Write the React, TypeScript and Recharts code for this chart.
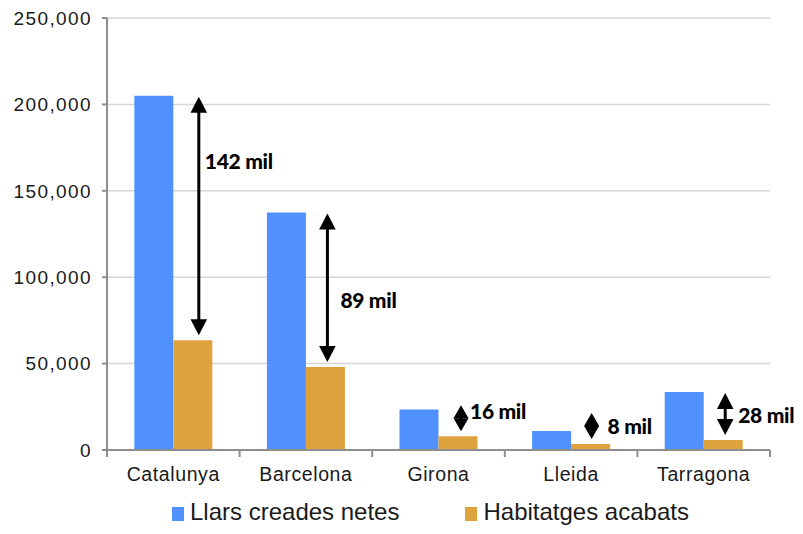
import React from 'react';
import {
  BarChart,
  Bar,
  XAxis,
  YAxis,
  CartesianGrid,
  LabelList,
} from 'recharts';

/* ─── Data ────────────────────────────────────────────────────────────── */

const REGIONS = ['Catalunya', 'Barcelona', 'Girona', 'Lleida', 'Tarragona'];
const LLARS = [205000, 137500, 23500, 11000, 33500];
const HABITATGES = [63500, 48000, 8000, 3400, 5800];
const GAP_LABELS = ['142 mil', '89 mil', '16 mil', '8 mil', '28 mil'];
const Y_TICKS = [0, 50000, 100000, 150000, 200000, 250000];

const SERIES = [
  { key: 'llars', name: 'Llars creades netes', color: '#5190FF' },
  { key: 'habitatges', name: 'Habitatges acabats', color: '#DFA33D' },
];

const data = REGIONS.map((r, i) => ({
  region: r,
  llars: LLARS[i],
  habitatges: HABITATGES[i],
}));

/* ─── Styles ──────────────────────────────────────────────────────────── */

const AXIS_COLOR = '#8E8E8E';
const GRID_COLOR = '#D6D6D6';
const TEXT_FONT = 'Arial, "Liberation Sans", sans-serif';
const NOTE_FONT = 'Lato, "Open Sans", sans-serif';

// arrow x shift from orange bar centre, note offset from arrow (dx) and arrow middle (dy)
const NOTE_LAYOUT = [
  { ax: 6, dx: 6, dy: -56 },
  { ax: 2, dx: 13, dy: 12 },
  { ax: 3, dx: 9, dy: -8 },
  { ax: 1, dx: 16, dy: -1 },
  { ax: 2, dx: 13, dy: 0 },
];

/* ─── Arrow annotation ────────────────────────────────────────────────── */

// eslint-disable-next-line @typescript-eslint/no-explicit-any
const renderGap = (props: any) => {
  const { x, y, width, height, value, index } = props;
  if (typeof x !== 'number' || !value) return null;
  const lay = NOTE_LAYOUT[index];
  const base = y + height;
  const perUnit = height / value;
  let top = base - LLARS[index] * perUnit + 1;
  const bottom = y - 5;
  if (bottom - top < 26) top = bottom - 26;
  const ax = x + width / 2 + lay.ax;
  const span = bottom - top;
  const head = Math.min(16, span / 2);
  const hw = span < 30 ? 7.5 : 8.3;
  const mid = (top + bottom) / 2;
  return (
    <g>
      <line x1={ax} y1={top + head - 1} x2={ax} y2={bottom - head + 1} stroke="#000" strokeWidth={3} />
      <polygon points={`${ax},${top} ${ax - hw},${top + head} ${ax + hw},${top + head}`} fill="#000" />
      <polygon points={`${ax},${bottom} ${ax - hw},${bottom - head} ${ax + hw},${bottom - head}`} fill="#000" />
      <text
        x={ax + lay.dx}
        y={mid + lay.dy}
        dominantBaseline="central"
        fontSize={21}
        fontWeight={900}
        letterSpacing={-0.3}
        fontFamily={NOTE_FONT}
        fill="#000"
      >
        {GAP_LABELS[index]}
      </text>
    </g>
  );
};

/* ─── X tick with boundary tick marks ─────────────────────────────────── */

// eslint-disable-next-line @typescript-eslint/no-explicit-any
const CategoryTick = (props: any) => {
  const { x, y, payload, index } = props;
  const half = payload?.offset || 66.3;
  return (
    <g>
      <line x1={x - half} y1={y - 8} x2={x - half} y2={y - 1} stroke={AXIS_COLOR} strokeWidth={2} />
      {index === REGIONS.length - 1 && (
        <line x1={x + half} y1={y - 8} x2={x + half} y2={y - 1} stroke={AXIS_COLOR} strokeWidth={2} />
      )}
      <text
        x={x}
        y={y + 23}
        textAnchor="middle"
        fontSize={19.5}
        letterSpacing={0.6}
        fontFamily={TEXT_FONT}
        fill="#1a1a1a"
      >
        {payload.value}
      </text>
    </g>
  );
};

/* ─── Legend ──────────────────────────────────────────────────────────── */

function ChartLegend() {
  return (
    <div
      style={{
        position: 'absolute',
        left: 172,
        top: 500,
        display: 'flex',
        gap: 66,
        fontFamily: TEXT_FONT,
        fontSize: 24,
        lineHeight: '24px',
        color: '#1a1a1a',
        whiteSpace: 'nowrap',
      }}
    >
      {SERIES.map((s) => (
        <div key={s.key} style={{ display: 'flex', alignItems: 'center', height: 24 }}>
          <span style={{ width: 12, height: 14, background: s.color, marginRight: 6, marginTop: 3, display: 'inline-block' }} />
          <span>{s.name}</span>
        </div>
      ))}
    </div>
  );
}

/* ─── Main export ─────────────────────────────────────────────────────── */

export default function App() {
  return (
    <div style={{ margin: -8, width: 803, height: 534, background: '#fff', position: 'relative' }}>
      <BarChart
        width={803}
        height={490}
        data={data}
        margin={{ top: 18, right: 33, bottom: 0, left: 0 }}
        barCategoryGap="20.6%"
        barGap={0}
      >
        <CartesianGrid vertical={false} stroke={GRID_COLOR} strokeWidth={1.5} />
        <XAxis
          dataKey="region"
          tickLine={false}
          axisLine={{ stroke: AXIS_COLOR, strokeWidth: 2 }}
          tick={<CategoryTick />}
          height={40}
          interval={0}
        />
        <YAxis
          width={107}
          domain={[0, 250000]}
          ticks={Y_TICKS}
          tickFormatter={(v: number) => v.toLocaleString('en-US')}
          axisLine={{ stroke: AXIS_COLOR, strokeWidth: 2 }}
          tickLine={{ stroke: AXIS_COLOR, strokeWidth: 2 }}
          tickSize={5}
          tickMargin={10}
          tick={{ fontSize: 19, fill: '#1a1a1a', fontFamily: TEXT_FONT, letterSpacing: 1.4 }}
        />
        <Bar dataKey="llars" name={SERIES[0].name} fill={SERIES[0].color} isAnimationActive={false} />
        <Bar dataKey="habitatges" name={SERIES[1].name} fill={SERIES[1].color} isAnimationActive={false}>
          <LabelList dataKey="habitatges" content={renderGap} />
        </Bar>
      </BarChart>
      <ChartLegend />
    </div>
  );
}
